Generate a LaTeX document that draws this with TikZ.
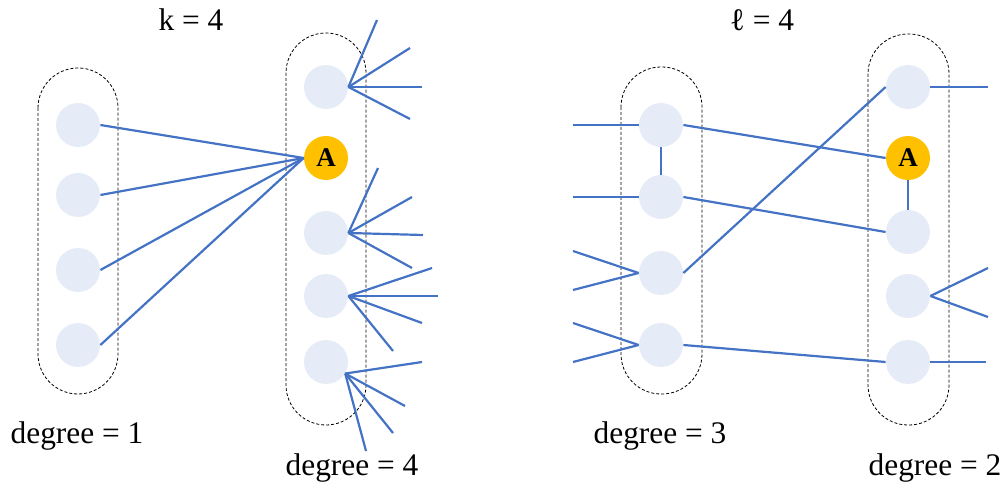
\documentclass[tikz,border=0pt]{standalone}
\usepackage{fontspec}
\setmainfont{Liberation Serif}
\definecolor{vfill}{HTML}{E6ECF7}
\definecolor{afill}{HTML}{FFC000}
\definecolor{eblue}{HTML}{4472C4}

\begin{document}
\begin{tikzpicture}[x=0.5pt,y=-0.5pt,
    vtx/.style={circle,fill=vfill,minimum size=22pt,inner sep=0pt},
    avtx/.style={circle,fill=afill,minimum size=22pt,inner sep=0pt,font=\bfseries\fontsize{13.5}{13.5}\selectfont},
    edge/.style={draw=eblue,line width=1.1pt},
    grp/.style={draw,dash pattern=on 1.5pt off 1pt,line width=0.4pt,rounded corners=20pt},
    lbl/.style={font=\fontsize{15.7}{18}\selectfont}]
    \useasboundingbox (0,0) rectangle (1005,491);

    \draw[grp] (38,68) rectangle (118,394);
    \draw[grp] (286,33) rectangle (366,425);
    \draw[grp] (621,67) rectangle (702,394);
    \draw[grp] (868,34) rectangle (949,425);

    \node[vtx] (u1) at (78,125) {};
    \node[vtx] (u2) at (78,195) {};
    \node[vtx] (u3) at (78,270) {};
    \node[vtx] (u4) at (78,345) {};

    \node[vtx] (v1) at (326,87) {};
    \node[avtx] (v2) at (326,158) {A};
    \node[vtx] (v3) at (326,233) {};
    \node[vtx] (v4) at (326,296) {};
    \node[vtx] (v5) at (326,362) {};

    \node[vtx] (p1) at (661,125) {};
    \node[vtx] (p2) at (661,197) {};
    \node[vtx] (p3) at (661,273) {};
    \node[vtx] (p4) at (661,345) {};

    \node[vtx] (q1) at (908,87) {};
    \node[avtx] (q2) at (908,158) {A};
    \node[vtx] (q3) at (908,232) {};
    \node[vtx] (q4) at (908,296) {};
    \node[vtx] (q5) at (908,362) {};

    \node[lbl] (kl) at (191,20) {k = 4};
    \node[lbl] (ll) at (762,20) {ℓ = 4};
    \node[lbl] (d1) at (77,436) {degree = 1};
    \node[lbl] (d4) at (352,468) {degree = 4};
    \node[lbl] (d3) at (660,436) {degree = 3};
    \node[lbl] (d2) at (935,468) {degree = 2};

    \foreach \i in {1,...,4}
        \draw[edge] (u\i.east) -- (v2.west);

    \foreach \x/\y [count=\i] in {377/20,410/48,422/87,410/119}{
        \coordinate (v1f\i) at (\x,\y);
        \draw[edge] (v1.east) -- (v1f\i);
    }
    \foreach \x/\y [count=\i] in {378/168,412/197,423/235,412/268}{
        \coordinate (v3f\i) at (\x,\y);
        \draw[edge] (v3.east) -- (v3f\i);
    }
    \foreach \x/\y [count=\i] in {432/268,438/296,422/323,393/351}{
        \coordinate (v4f\i) at (\x,\y);
        \draw[edge] (v4.east) -- (v4f\i);
    }
    \foreach \x/\y [count=\i] in {422/362,405/406,393/433,366/451}{
        \coordinate (v5f\i) at (\x,\y);
        \draw[edge] (v5.-31) -- (v5f\i);
    }

    \foreach \n/\x/\y [count=\i] in {p1/573/125,p2/573/197,p3/573/251,p3/573/290,p4/573/323,p4/573/362}{
        \coordinate (s\i) at (\x,\y);
        \draw[edge] (s\i) -- (\n.west);
    }
    \foreach \n/\x/\y [count=\i] in {q1/988/87,q4/988/268,q4/988/317,q5/986/362}{
        \coordinate (t\i) at (\x,\y);
        \draw[edge] (\n.east) -- (t\i);
    }

    \draw[edge] (p1.south) -- (p2.north);
    \draw[edge] (q2.south) -- (q3.north);
    \draw[edge] (p1.east) -- (q2.west);
    \draw[edge] (p2.east) -- (q3.west);
    \draw[edge] (p3.east) -- (q1.west);
    \draw[edge] (p4.east) -- (q5.west);
\end{tikzpicture}
\end{document}
